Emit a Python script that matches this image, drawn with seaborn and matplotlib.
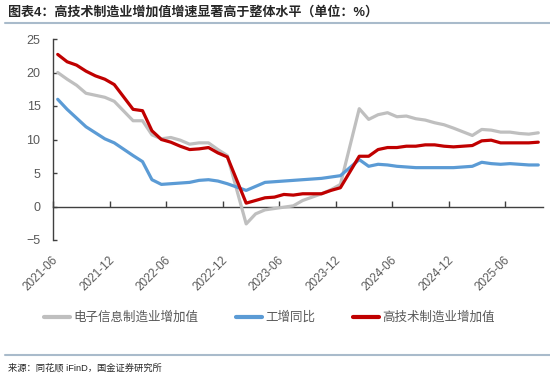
import numpy as np
import pandas as pd
import matplotlib
matplotlib.use("Agg")
import matplotlib.pyplot as plt
import matplotlib.transforms as mtransforms
from matplotlib.lines import Line2D
import seaborn as sns

# ---- data (monthly, January values not published) ----
all_months = pd.period_range("2021-06", "2025-09", freq="M")
months = [str(p) for p in all_months if p.month != 1]

electronics = [20.0, 19.0, 18.1, 16.9, 16.6, 16.3, 15.7,
               12.8, 12.8, 10.7, 10.1, 10.3, 9.9, 9.3, 9.5, 9.5, 8.5, 7.6,
               -2.6, -1.1, -0.5, -0.3, -0.1, 0.1, 0.9, 1.4, 1.9, 2.5, 3.3,
               14.6, 13.0, 13.7, 14.0, 13.4, 13.5, 13.1, 12.9, 12.5, 12.2, 11.7,
               10.6, 11.5, 11.4, 11.1, 11.1, 10.9, 10.8, 11.0]
industry = [16.0, 14.5, 13.2, 11.9, 11.0, 10.1, 9.5,
            7.6, 6.7, 4.0, 3.3, 3.4, 3.5, 3.6, 3.9, 4.0, 3.8, 3.4,
            2.4, 3.0, 3.6, 3.7, 3.8, 3.9, 4.0, 4.1, 4.2, 4.4, 4.6,
            7.0, 6.0, 6.3, 6.2, 6.0, 5.9, 5.8, 5.8, 5.8, 5.8, 5.8,
            6.0, 6.6, 6.4, 6.3, 6.4, 6.3, 6.2, 6.2]
hightech = [22.7, 21.6, 21.1, 20.2, 19.5, 19.0, 18.2,
            14.5, 14.3, 11.3, 10.0, 9.6, 9.0, 8.5, 8.6, 8.8, 8.0, 7.4,
            0.5, 0.9, 1.3, 1.4, 1.8, 1.7, 1.9, 1.9, 1.9, 2.4, 2.8,
            7.5, 7.5, 8.5, 8.8, 8.8, 9.0, 9.0, 9.2, 9.2, 9.0, 8.9,
            9.1, 9.8, 9.9, 9.5, 9.5, 9.5, 9.5, 9.6]

series_names = ["电子信息制造业增加值", "工增同比", "高技术制造业增加值"]
colors = ["#BFBFBF", "#5B9BD5", "#C00000"]
tick_labels = ["2021-06", "2021-12", "2022-06", "2022-12", "2023-06",
               "2023-12", "2024-06", "2024-12", "2025-06"]

# ---- build tidy frame ----
start = pd.Period("2021-06", freq="M")
pos = [(pd.Period(m, freq="M") - start).n for m in months]
df = pd.DataFrame({"month": months, "pos": pos,
                   series_names[0]: electronics,
                   series_names[1]: industry,
                   series_names[2]: hightech})
long = df.melt(id_vars=["month", "pos"], value_vars=series_names,
               var_name="series", value_name="value")

sns.set_theme(style="white")
plt.rcParams["font.family"] = ["Liberation Sans", "Noto Sans CJK SC", "DejaVu Sans"]
plt.rcParams["axes.unicode_minus"] = True

fig = plt.figure(figsize=(5.5, 3.75), dpi=100)
ax = fig.add_axes([53 / 550, 1 - 240 / 375, 490 / 550, 201 / 375])

sns.lineplot(data=long, x="pos", y="value", hue="series",
             hue_order=series_names, palette=colors, linewidth=2.3,
             legend=False, ax=ax)

ax.set_xlim(-0.5, len(all_months) - 0.5)
ax.set_ylim(-5, 25)
ax.set_yticks([-5, 0, 5, 10, 15, 20, 25])
ax.set_xlabel("")
ax.set_ylabel("")

# spines
for s in ["top", "right", "bottom"]:
    ax.spines[s].set_visible(False)
ax.spines["left"].set_color("#404040")
ax.spines["left"].set_linewidth(1.0)

tick_pos = [(pd.Period(t, freq="M") - start).n - 0.5 for t in tick_labels]
ax.set_xticks(tick_pos)
ax.set_xticklabels(tick_labels, rotation=45, ha="right", va="center",
                   rotation_mode="anchor", color="#595959", fontsize=8.5)
ax.tick_params(axis="x", length=0, pad=13)
ax.tick_params(axis="y", direction="in", length=3, width=1, color="#404040",
               labelcolor="#595959", labelsize=9, pad=9, left=True)
offset = mtransforms.ScaledTranslation(3 / 100, 0, fig.dpi_scale_trans)
for lab in ax.get_xticklabels():
    lab.set_transform(lab.get_transform() + offset)

# zero line axis with inward ticks
sec = ax.secondary_xaxis(5 / 30)
sec.set_xticks(tick_pos)
sec.set_xticklabels([])
sec.tick_params(axis="x", direction="in", length=4, width=1, color="#404040")
sec.spines["bottom"].set_color("#404040")
sec.spines["bottom"].set_linewidth(1.0)

# legend
handles = [Line2D([0], [0], color=c, lw=3) for c in colors]
fig.legend(handles, series_names, loc="center", bbox_to_anchor=(0.49, 1 - 318 / 375),
           ncol=3, frameon=False, fontsize=9, handlelength=2.1,
           handletextpad=0.25, columnspacing=3.0, labelcolor="#595959")

# title, separators and source
fig.text(8 / 550, 1 - 12 / 375, "图表4：高技术制造业增加值增速显著高于整体水平（单位：%）",
         fontsize=9.4, fontweight="bold", color="#262626", va="center", ha="left")
fig.add_artist(Line2D([5 / 550, 1], [1 - 23 / 375] * 2, color="#A9BBCB", lw=1.5))
fig.add_artist(Line2D([5 / 550, 1], [1 - 355 / 375] * 2, color="#A9BBCB", lw=1.5))
fig.text(8 / 550, 1 - 368 / 375, "来源：同花顺 iFinD，国金证券研究所",
         fontsize=6.7, color="#262626", va="center", ha="left")

fig.savefig("out.png", dpi=100)
